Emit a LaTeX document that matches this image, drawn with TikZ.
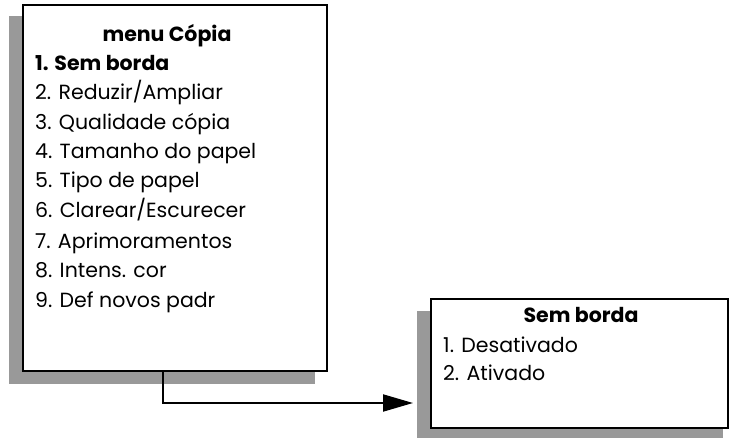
\documentclass[tikz,border=0pt]{standalone}
\usepackage{fontspec}
\setmainfont{Poppins}
\usetikzlibrary{arrows.meta}
\begin{document}
\begin{tikzpicture}[x=1pt,y=-1pt,
  shadowbox/.style={fill=black!40,draw=none,inner sep=0pt,outer sep=0pt},
  menubox/.style={fill=white,draw=black,line width=2pt,inner sep=0pt,outer sep=0pt},
  item/.style={anchor=base west,inner sep=0pt,font=\fontsize{20.5}{24}\selectfont},
  title/.style={anchor=base,inner sep=0pt,font=\fontsize{20.5}{24}\selectfont\bfseries},
  conn/.style={line width=2pt,-{Triangle[length=30pt,width=17pt]}}]
\useasboundingbox (0,0) rectangle (730,438);
% main menu
\node[shadowbox,minimum width=306pt,minimum height=368pt] (mainsh) at (162,200) {};
\node[menubox,minimum width=304pt,minimum height=366pt] (main) at (175,188) {};
\node[title] (mt) at (167,42) {menu Cópia};
\node[item,font=\fontsize{20.5}{24}\selectfont\bfseries] (m1) at (35,71) {1. Sem borda};
\node[item] (m2) at (35,100) {2. Reduzir/Ampliar};
\node[item] (m3) at (35,130) {3. Qualidade cópia};
\node[item] (m4) at (35,159) {4. Tamanho do papel};
\node[item] (m5) at (35,188) {5. Tipo de papel};
\node[item] (m6) at (35,218) {6. Clarear/Escurecer};
\node[item] (m7) at (35,248) {7. Aprimoramentos};
\node[item] (m8) at (35,277) {8. Intens. cor};
\node[item] (m9) at (35,307) {9. Def novos padr};
% sub menu
\node[shadowbox,minimum width=306pt,minimum height=127pt] (subsh) at (570,374.5) {};
\node[menubox,minimum width=297pt,minimum height=129pt] (sub) at (579.5,363.5) {};
\node[title] (st) at (581,322) {Sem borda};
\node[item] (s1) at (443,352) {1. Desativado};
\node[item] (s2) at (443,380) {2. Ativado};
% connector
\coordinate (cstart) at (163,371);
\coordinate (tip) at (413,403);
\draw[conn] (cstart) |- (tip);
\end{tikzpicture}
\end{document}
